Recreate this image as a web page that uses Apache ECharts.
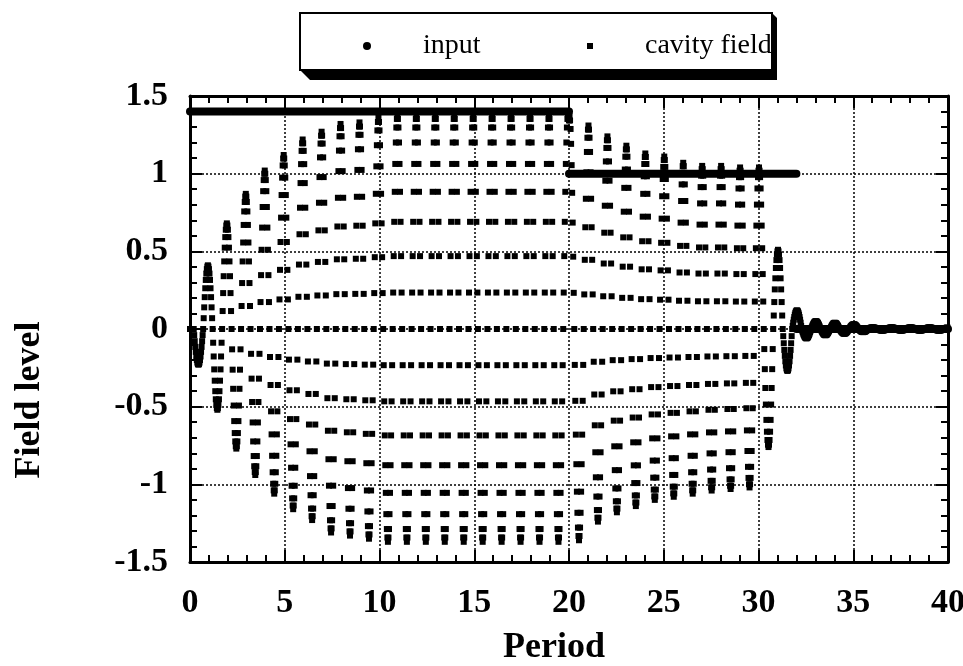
<!DOCTYPE html>
<html>
<head>
<meta charset="utf-8">
<script src="https://cdn.jsdelivr.net/npm/echarts@6/dist/echarts.min.js"></script>
<style>
html, body { margin: 0; background: #fff; }
#chart { width: 963px; height: 666px; }
</style>
</head>
<body>
<div id="chart"></div>
<script>
// input drive: level held between break points
var inputBreaks = [0, 20, 32, 40];
var inputLevels = [1.4, 1.0, 0];

// cavity field, 36 samples per period
var samplesPerPeriod = 36;
// one period of the sampled wave, normalised, from the rising zero crossing (read on the flat top, x 10-20)
var waveShape = [0, 0.17, 0.34, 0.5, 0.64, 0.77, 0.87, 0.94, 0.98, 1, 0.98, 0.94, 0.87, 0.77, 0.64, 0.5, 0.34, 0.17,
                 0, -0.17, -0.34, -0.5, -0.64, -0.77, -0.87, -0.94, -0.98, -1, -0.98, -0.94, -0.87, -0.77, -0.64, -0.5, -0.34, -0.17];
// highest and lowest sample in each period 0..39
var peakHi = [0.41, 0.68, 0.87, 1.02, 1.12, 1.22, 1.27, 1.32, 1.33, 1.36,
              1.38, 1.38, 1.38, 1.38, 1.38, 1.38, 1.38, 1.38, 1.38, 1.38,
              1.37, 1.31, 1.24, 1.18, 1.13, 1.11, 1.07, 1.05, 1.05, 1.04,
              1.04, 0.51, 0.12, 0.05, 0.04, 0.03, 0.01, 0.01, 0.01, 0.01];
var peakLo = [-0.23, -0.52, -0.77, -0.94, -1.06, -1.16, -1.23, -1.31, -1.33, -1.35,
              -1.37, -1.37, -1.37, -1.37, -1.37, -1.37, -1.37, -1.37, -1.37, -1.37,
              -1.36, -1.24, -1.18, -1.14, -1.10, -1.08, -1.06, -1.04, -1.03, -1.02,
              -0.76, -0.27, -0.06, -0.04, -0.03, -0.02, -0.01, -0.01, -0.01, -0.01];
// sample index of the rising zero crossing inside each period (phase steps at x = 20)
var zeroSample = [25, 25, 25, 25, 25, 25, 25, 25, 25, 25, 25, 25, 25, 25, 25, 25, 25, 25, 25, 25,
                  28, 28, 28, 28, 28, 28, 28, 28, 28, 28, 28, 28, 28, 28, 28, 28, 28, 28, 28, 28];

var xMin = 0, xMax = 40, xStep = 5;
var yMin = -1.5, yMax = 1.5, yStep = 0.5;

// build the sample table
var cavity = [];
for (var k = 0; k < peakHi.length; k++) {
    for (var n = 0; n < samplesPerPeriod; n++) {
        var g = k * samplesPerPeriod + n;
        var i = ((n - zeroSample[k]) % samplesPerPeriod + samplesPerPeriod) % samplesPerPeriod;
        var s = waveShape[i];
        var ge = s > 0 ? g - i + 9 : g - i + 27;   // sample of the nearest peak / trough
        var ke = Math.floor(ge / samplesPerPeriod);
        var amp = 0;
        if (ge >= 0) {
            ke = Math.min(ke, peakHi.length - 1);
            amp = s > 0 ? peakHi[ke] : -peakLo[ke];
        }
        cavity.push([g / samplesPerPeriod, amp * s]);
    }
}

var inputSeries = [];
for (var j = 0; j < inputLevels.length; j++) {
    inputSeries.push({
        name: 'input',
        type: 'line',
        symbol: 'none',
        z: 2,
        lineStyle: { color: '#000', width: 8, cap: 'round', opacity: 1 },
        itemStyle: { color: '#000' },
        data: [[inputBreaks[j], inputLevels[j]], [inputBreaks[j + 1], inputLevels[j]]]
    });
}

var labelFont = { fontFamily: 'Liberation Serif', fontWeight: 'bold', fontSize: 34, color: '#000' };
var nameFont = { fontFamily: 'Liberation Serif', fontWeight: 'bold', fontSize: 36, color: '#000' };
var legendFont = { fontFamily: 'Liberation Serif', fontSize: 28, color: '#000', lineHeight: 30, padding: [0, 0, 0, 47] };

function axisCommon(extra) {
    var a = {
        type: 'value',
        axisLine: { onZero: false, lineStyle: { color: '#000', width: 3 } },
        axisTick: { inside: true, length: 12, lineStyle: { color: '#000', width: 2 } },
        minorTick: { show: true, splitNumber: 5, length: 7, lineStyle: { color: '#000', width: 2 } },
        splitLine: { show: false },
        axisLabel: { show: false }
    };
    for (var key in extra) a[key] = extra[key];
    return a;
}

var chart = echarts.init(document.getElementById('chart'));
chart.setOption({
    animation: false,
    backgroundColor: '#fff',
    grid: { left: 190, right: 15, top: 96, bottom: 104, outerBoundsMode: 'none' },
    graphic: [
        { type: 'polygon', z: 0, shape: { points: [[300, 70], [310, 80], [777, 80], [777, 18], [772, 13]] }, style: { fill: '#000' } },
        { type: 'rect', z: 0, shape: { x: 300, y: 13, width: 472, height: 57 }, style: { fill: '#fff', stroke: '#000', lineWidth: 2 } }
    ],
    legend: [
        { data: [{ name: 'input', icon: 'circle' }], left: 363, top: 31, padding: 0, itemWidth: 8, itemHeight: 8, selectedMode: false, textStyle: legendFont },
        { data: [{ name: 'cavity field', icon: 'rect' }], left: 587, top: 31, padding: 0, itemWidth: 6, itemHeight: 6, selectedMode: false, textStyle: legendFont }
    ],
    xAxis: [
        axisCommon({
            position: 'bottom', min: xMin, max: xMax, interval: xStep,
            splitLine: { show: true, lineStyle: { color: '#000', width: 1.5, type: [2, 2] } },
            axisLabel: Object.assign({ margin: 24 }, labelFont),
            name: 'Period', nameLocation: 'middle', nameGap: 68,
            nameTextStyle: Object.assign({ padding: [0, 30, 0, 0] }, nameFont)
        }),
        axisCommon({ position: 'top', min: xMin, max: xMax, interval: xStep })
    ],
    yAxis: [
        axisCommon({
            position: 'left', min: yMin, max: yMax, interval: yStep,
            splitLine: { show: true, lineStyle: { color: '#000', width: 1.5, type: [2, 2] } },
            axisLabel: Object.assign({ margin: 22 }, labelFont),
            name: 'Field level', nameLocation: 'middle', nameGap: 142,
            nameTextStyle: Object.assign({ padding: [0, 142, 0, 0] }, nameFont)
        }),
        axisCommon({ position: 'right', min: yMin, max: yMax, interval: yStep })
    ],
    series: inputSeries.concat([{
        name: 'cavity field',
        type: 'scatter',
        symbol: 'rect',
        symbolSize: 6,
        z: 3,
        itemStyle: { color: '#000', opacity: 1 },
        data: cavity
    }])
});
</script>
</body>
</html>
